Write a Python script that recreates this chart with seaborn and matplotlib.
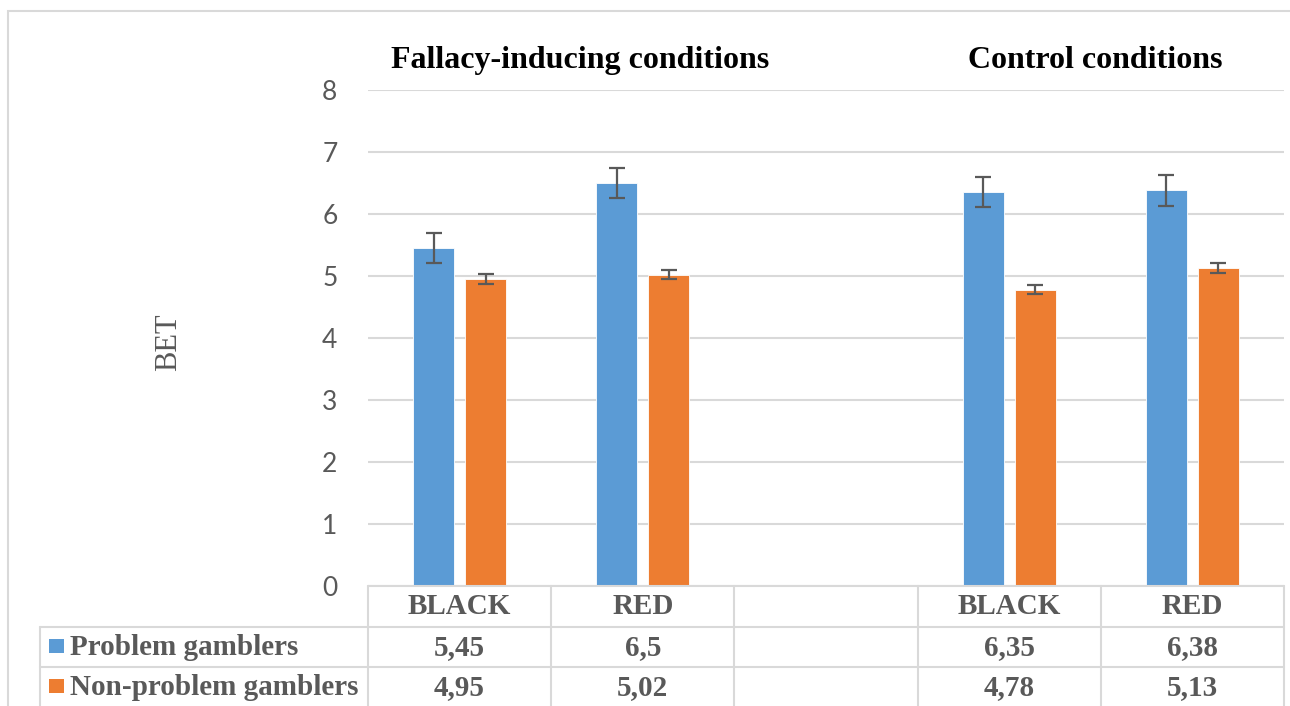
import numpy as np
import matplotlib as mpl
mpl.use('Agg')

import matplotlib.pyplot as plt
import matplotlib.transforms as mtransforms
from matplotlib.lines import Line2D
from matplotlib.patches import Rectangle
import seaborn as sns
import pandas as pd

# Data
cat_keys = ["F_BLACK", "F_RED", "GAP", "C_BLACK", "C_RED"]
col_labels = ["BLACK", "RED", "", "BLACK", "RED"]
groups = ["Problem gamblers", "Non-problem gamblers"]
problem = [5.45, 6.5, None, 6.35, 6.38]
non_problem = [4.95, 5.02, None, 4.78, 5.13]
problem_err = [0.24, 0.245, None, 0.24, 0.25]
non_problem_err = [0.075, 0.075, None, 0.075, 0.075]
section_titles = ["Fallacy-inducing conditions", "Control conditions"]
section_x = [0.66, 3.47]

colors = ["#5B9BD5", "#ED7D31"]
grey = "#595959"
line_c = "#D9D9D9"
serif = "Liberation Serif"

rows = []
for g, vals in zip(groups, [problem, non_problem]):
    for k, v in zip(cat_keys, vals):
        if v is not None:
            rows.append({"cond": k, "group": g, "bet": v})
df = pd.DataFrame(rows)
errs = {groups[0]: problem_err, groups[1]: non_problem_err}

sns.set_style("white")
plt.rcParams['font.family'] = ['Lato', 'DejaVu Sans']

fig = plt.figure(figsize=(12.9, 7.06), dpi=100)
ax = fig.add_axes([368 / 1290, 1 - 586 / 706, 916 / 1290, 496 / 706])

sns.barplot(data=df, x="cond", y="bet", hue="group", order=cat_keys,
            hue_order=groups, palette=colors, width=0.568, gap=0.21,
            errorbar=None, legend=False, ax=ax, saturation=1,
            edgecolor="white", linewidth=0.6)

# error bars at the bar centres
for g, cont in zip(groups, ax.containers):
    for bar in cont:
        xc = bar.get_x() + bar.get_width() / 2
        idx = int(round(xc))
        e = errs[g][idx]
        if e is None:
            continue
        ax.errorbar(xc, bar.get_height(), yerr=e, fmt='none', ecolor=grey,
                    elinewidth=1.6, capsize=6, capthick=1.6, zorder=5)

ax.set_xlim(-0.5, 4.5)
ax.set_ylim(0, 8)
ax.set_yticks(range(0, 9))
ax.set_xticks([])
ax.set_xlabel("")
ax.set_ylabel("")
ax.tick_params(axis='y', length=0, pad=22, labelsize=19, labelcolor=grey)
for s in ax.spines.values():
    s.set_visible(False)
ax.grid(axis='y', color=line_c, linewidth=1.5)
ax.set_axisbelow(True)

# section titles
for t, xs in zip(section_titles, section_x):
    ax.text(xs, 1.06, t, transform=mtransforms.blended_transform_factory(ax.transData, ax.transAxes),
            ha='center', va='center', fontsize=23, fontweight='bold', family=serif, color='black')

fig.text(169 / 1290, 1 - 342 / 706, "BET", rotation=90, ha='center', va='center',
         fontsize=22, family=serif, color=grey)

# data table under the axis
tdx = mtransforms.blended_transform_factory(ax.transData, ax.transAxes)
tfa = mtransforms.blended_transform_factory(fig.transFigure, ax.transAxes)
row_y = [-0.0827, -0.1633]
left_ax = (40 - 368) / 916
ax.add_line(Line2D([-0.5, 4.5], [0, 0], transform=tdx, color=line_c, lw=1.5, clip_on=False))
for y in row_y:
    ax.add_line(Line2D([left_ax, 1.0], [y, y], transform=ax.transAxes, color=line_c, lw=1.5, clip_on=False))
for xb in np.arange(-0.5, 5.0, 1.0):
    ax.add_line(Line2D([xb, xb], [0, -0.3], transform=tdx, color=line_c, lw=1.5, clip_on=False))
ax.add_line(Line2D([left_ax, left_ax], [row_y[0], -0.3], transform=ax.transAxes,
                   color=line_c, lw=1.5, clip_on=False))

text_y = [-0.0413, -0.1235, -0.2042]
for i, lab in enumerate(col_labels):
    ax.text(i, text_y[0], lab, transform=tdx, ha='center', va='center',
            fontsize=21, fontweight='bold', family=serif, color=grey)
for r, (g, vals) in enumerate(zip(groups, [problem, non_problem])):
    for i, v in enumerate(vals):
        if v is None:
            continue
        ax.text(i, text_y[r + 1], str(v).replace('.', ','), transform=tdx, ha='center', va='center',
                fontsize=21, fontweight='bold', family=serif, color=grey)
    ax.text(70 / 1290, text_y[r + 1], g, transform=tfa, ha='left', va='center',
            fontsize=21, fontweight='bold', family=serif, color=grey)
    cy = 586 - 496 * text_y[r + 1]
    fig.add_artist(Rectangle((49 / 1290, 1 - (cy + 6) / 706), 15 / 1290, 14 / 706,
                             transform=fig.transFigure, facecolor=colors[r], edgecolor='none'))

# outer chart border
fig.add_artist(Rectangle((8 / 1290, -0.1), 1.2, 1 - 11 / 706 + 0.1, transform=fig.transFigure,
                         fill=False, edgecolor=line_c, lw=1.5))

fig.savefig("out.png", dpi=100)
plt.close()
